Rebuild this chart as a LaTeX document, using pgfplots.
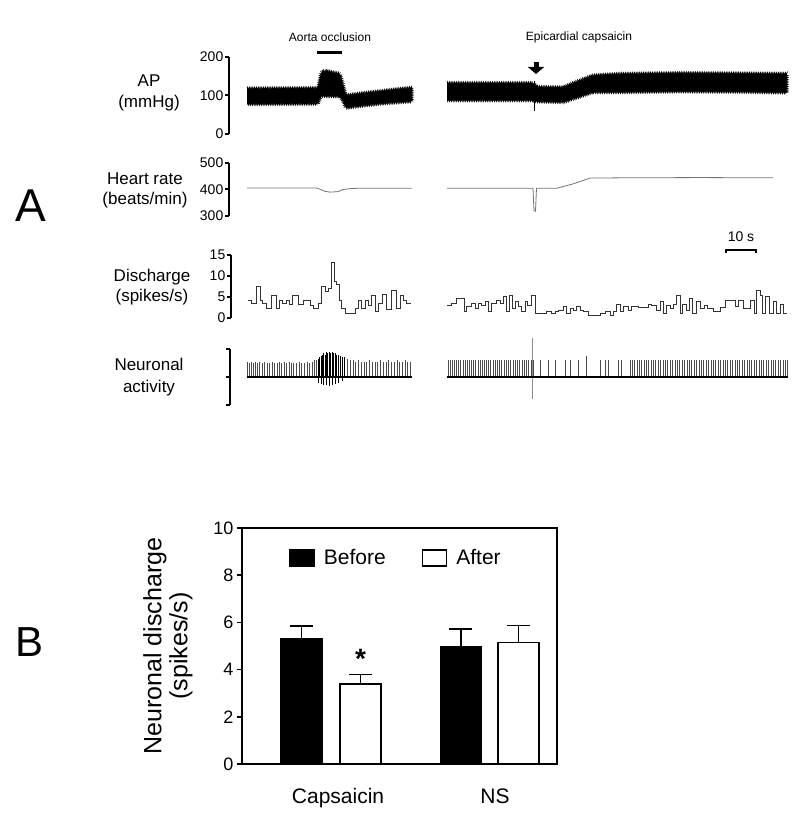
\documentclass[border=0pt]{standalone}
\usepackage{fontspec}
\setmainfont{Liberation Sans}
\usepackage{pgfplots}
\pgfplotsset{compat=1.18}
\usetikzlibrary{arrows.meta,decorations.pathmorphing}

\pgfplotsset{
  trace/.style={
    scale only axis, anchor=south west, clip=false,
    xmax=790, xtick=\empty,
    axis x line=none, axis y line*=left,
    y axis line style={line width=2pt,-},
    ytick style={line width=2pt,black},
    tick align=outside, major tick length=4pt,
    yticklabel style={font=\fontsize{14}{16}\selectfont,
      /pgf/number format/assume math mode=true, inner sep=1.5pt},
  },
  band/.style={fill=black, draw=black, line width=0.4pt, decorate,
    decoration={zigzag, segment length=1.8pt, amplitude=1.4pt}},
}

\begin{document}
\begin{tikzpicture}[x=1pt,y=1pt]
\useasboundingbox (0,0) rectangle (800,819);

% ---------------- panel A ----------------
\node[font=\fontsize{46}{46}\selectfont] at (31,613) {A};
\node[align=center, font=\fontsize{17}{21}\selectfont] at (149,726) {AP\\(mmHg)};
\node[align=center, font=\fontsize{17}{20}\selectfont] at (145,629) {Heart rate\\(beats/min)};
\node[align=center, font=\fontsize{17}{20}\selectfont] at (152,532) {Discharge\\(spikes/s)};
\node[align=center, font=\fontsize{17}{22}\selectfont] at (149,442) {Neuronal\\activity};

\node[font=\fontsize{12}{14}\selectfont] at (330,782) {Aorta occlusion};
\draw[line width=3pt] (317,766) -- (342,766);
\node[font=\fontsize{12}{14}\selectfont] at (579,782) {Epicardial capsaicin};
\draw[line width=5pt, -{Triangle[width=16pt,length=7pt]}] (536,757) -- (536,745);

\node[font=\fontsize{14}{16}\selectfont] at (741,582) {10 s};
\draw[line width=2pt] (726,565.5) -- (726,569) -- (756,569) -- (756,565.5);

% AP
\begin{axis}[trace, at={(229pt,685pt)}, width=561pt, height=77pt,
  xmin=229, ymin=0, ymax=200, ytick={0,100,200}]
\addplot[band] coordinates {
  (247,119) (318,120) (321,158) (324,166) (340,157) (342,140) (346,101)
  (360,106) (380,112) (400,118) (412,121)
  (412,84) (400,82) (380,78) (360,72) (346,67) (343,85) (340,97) (321,98)
  (318,78) (247,77)};
\addplot[band] coordinates {
  (447,133) (533,133) (537,123) (563,122) (575,135) (593,153) (620,157)
  (680,159) (740,158) (787,157)
  (787,107) (740,109) (680,110) (620,108) (593,108) (575,92) (563,82)
  (537,84) (533,87) (447,87)};
\addplot[black, line width=0.8pt] coordinates {(534.5,60) (534.5,138)};
\end{axis}

% Heart rate
\begin{axis}[trace, at={(229pt,603pt)}, width=561pt, height=53pt,
  xmin=229, ymin=300, ymax=500, ytick={300,400,500}]
\addplot[black!55, line width=0.8pt] coordinates {
  (247,406) (316,406) (320,401) (325,393) (330,390) (338,392) (343,400)
  (350,403) (360,405) (412,405)};
\addplot[black!55, line width=0.8pt] coordinates {
  (447,405) (533,405) (534,320) (535.5,318) (536.5,405) (557,405) (572,420)
  (580,430) (590,443) (620,444) (700,445) (773,444)};
\end{axis}

% Discharge
\begin{axis}[trace, at={(231pt,501pt)}, width=559pt, height=63pt,
  xmin=231, ymin=0, ymax=15, ytick={0,5,10,15}]
\addplot[const plot, black!80, line width=0.7pt] coordinates {
  (248.3,4.1) (251.7,3.5) (256.7,7.6) (260,4.3) (262.7,3.5) (266.7,2.3)
  (271.7,5.5) (276.7,2.3) (279.3,4.1) (282.7,3.5) (286,4.3) (289.3,3.3)
  (292.7,5.5) (298.3,3.3) (303.3,4.3) (310,3.1) (313.3,2.3) (318.3,3.5)
  (321.7,7.5) (325,6.3) (328.3,7.1) (331.7,13.3) (334.3,8.7) (336.7,7.9)
  (339.3,4.3) (341.7,2.3) (345,1.1) (355,2.3) (358.3,4.3) (361.7,2.3)
  (365,4.3) (368.3,3.1) (371.7,5.5) (375,1.5) (378.3,3.5) (382.7,5.6)
  (386.7,2.1) (391.7,6.5) (396,2.3) (400,5.5) (403.3,4.3) (406.7,3.5)
  (411,3.5)};
\addplot[const plot, black!80, line width=0.7pt] coordinates {
  (446.7,2.9) (451.7,3.5) (456.7,4.7) (464,1.5) (466.7,2.7) (471.7,3.5)
  (475,2.3) (478.3,3.5) (481.7,3.1) (485,3.9) (488.3,1.5) (491.7,3.5)
  (496.7,4.1) (500,3.5) (503.3,5.2) (506.7,1.5) (509.3,5.5) (512,2.3)
  (515,3.9) (518.3,2.7) (521.7,1.5) (525,3.9) (527.3,3.1) (531.7,5.5)
  (535,1.1) (546.7,1.5) (551.7,1.1) (555,1.5) (558.3,1.9) (563.3,2.7)
  (566.7,1.1) (570,2.3) (573.3,1.75) (576.7,2.7) (580,1.9) (583.3,1.5)
  (588.3,0.7) (600,1.1) (605,1.5) (610,0.7) (613.3,1.5) (616.7,3.3)
  (620,1.5) (623.3,2.7) (628.3,1.9) (631.7,2.7) (638.3,2.5) (648.3,3.3)
  (651.7,3.1) (656.7,1.9) (660,3.9) (663.3,1.1) (666.7,3.1) (670,2.3)
  (673.3,3.3) (676.7,5.5) (680,1.1) (682.7,3.3) (686,1.9) (689.3,4.7)
  (692.7,1.1) (696,3.9) (700,2.3) (704,3.1) (707.3,2.3) (713.3,1.5)
  (720,2.5) (725,4.3) (735,2.7) (738.3,4.3) (743.3,2.3) (750,4.1)
  (754,1.1) (756.7,6.7) (760,5.5) (762.7,1.1) (765,5.1) (769.3,1.1)
  (773.3,3.9) (776.7,1.1) (780,3.3) (783.3,1.1) (786.7,1.1)};
\end{axis}

% Neuronal activity
\begin{axis}[trace, at={(230pt,414pt)}, width=560pt, height=56pt,
  xmin=230, ymin=-1, ymax=1, ytick={-1,0,1}, yticklabels={}]
\addplot[ycomb, black!70, line width=0.6pt] coordinates {
  (247.5,.55) (249,.5) (251,.55) (253.5,.5) (255,.55) (257,.5) (259.5,.55)
  (262,.5) (264,.55) (267,.5) (269.5,.5) (272,.55) (274,.5) (277,.5)
  (279,.55) (281.5,.5) (284,.55) (286,.5) (289,.55) (291,.5) (293.5,.5)
  (296,.5) (299,.55) (301,.5) (304,.5) (307,.55) (309.5,.5) (312,.55)
  (314,.6) (316,.6) (347,.65) (350,.6) (353,.6) (355.5,.55) (358,.6)
  (361,.55) (364,.55) (366.5,.55) (369,.6) (372,.55) (375,.55) (377.5,.55)
  (380,.6) (383,.55) (386,.55) (388.5,.6) (391,.55) (394,.55) (397,.6)
  (399.5,.55) (402,.55) (405,.6) (407.5,.55) (410,.55)};
\addplot[ycomb, black, line width=0.7pt] coordinates {
  (318,.65) (319.5,.7) (321,.75) (322,.8) (323.5,.85) (325,.8) (326,.9)
  (327.5,.85) (329,.9) (330.5,.85) (332,.9) (333.5,.85) (335,.85)
  (336.5,.8) (338,.8) (340,.75) (342,.7) (344,.7)
  (318,-.2) (321,-.25) (323.5,-.3) (326,-.3) (329,-.32) (332,-.3)
  (335,-.25) (338,-.2) (342,-.15)};
\addplot[ycomb, black!70, line width=0.6pt] coordinates {
  (448,.6) (450,.6) (452,.6) (454.5,.6) (456,.6) (458,.6) (460.5,.6)
  (463,.6) (465,.6) (467,.6) (469.5,.6) (471,.6) (473,.6) (475.5,.6)
  (478,.6) (480,.6) (482,.6) (484,.6) (486.5,.6) (488,.6) (490.5,.6)
  (493,.6) (495,.6) (497,.6) (499,.6) (501.5,.6) (504,.6) (506,.6)
  (508,.6) (510.5,.6) (513,.6) (515,.6) (517,.6) (519.5,.6) (522,.6)
  (524,.6) (526,.6) (528.5,.6) (531,.6) (533,.6)
  (540,.6) (548,.6) (555,.6) (565,.6) (570,.6) (578,.6) (586.7,.75)
  (600,.6) (605,.6) (608,.6) (618,.6) (621.7,.6)
  (630,.6) (632,.6) (634.5,.6) (637,.6) (639,.6) (641.5,.6) (644,.6)
  (646,.6) (648.5,.6) (651,.6) (653,.6) (655.5,.6) (658,.6) (660.5,.6)
  (663,.6) (665,.6) (667.5,.6) (670,.6) (672.5,.6) (675,.6) (677,.6)
  (679.5,.6) (682,.6) (684.5,.6) (687,.6) (689,.6) (691.5,.6) (694,.6)
  (696.5,.6) (699,.6) (701,.6) (703.5,.6) (706,.6) (708.5,.6) (711,.6)
  (713,.6) (715.5,.6) (718,.6) (720.5,.6) (723,.6) (725,.6) (727.5,.6)
  (730,.6) (732.5,.6) (735,.6) (737,.6) (739.5,.6) (742,.6) (744.5,.6)
  (747,.6) (749,.6) (751.5,.6) (754,.6) (756.5,.6) (759,.6) (761,.6)
  (763.5,.6) (766,.6) (768.5,.6) (771,.6) (773,.6) (775.5,.6) (778,.6)
  (780.5,.6) (783,.6) (785,.6) (787,.6)};
\addplot[black!45, line width=0.6pt] coordinates {(532,-0.77) (532,1.41)};
\addplot[black, line width=2pt] coordinates {(247,0) (412,0)};
\addplot[black, line width=2pt] coordinates {(447,0) (788,0)};
\end{axis}

% ---------------- panel B ----------------
\node[font=\fontsize{42}{42}\selectfont] at (30,177) {B};

\begin{axis}[at={(242pt,55pt)}, anchor=south west, scale only axis,
  width=315pt, height=236pt, clip=false,
  xmin=0, xmax=10, ymin=0, ymax=10,
  ytick={0,2,...,10}, xtick={3.05,8.03}, xticklabels={Capsaicin,NS},
  axis line style={line width=1.5pt},
  ytick pos=left, tick align=outside, major tick length=5pt,
  ytick style={line width=1.5pt,black}, xtick style={draw=none},
  yticklabel style={font=\fontsize{18}{20}\selectfont,
    /pgf/number format/assume math mode=true},
  xticklabel style={font=\fontsize{21}{24}\selectfont, yshift=-16pt},
  ylabel={Neuronal discharge\\(spikes/s)},
  every axis y label/.style={at={(axis description cs:-0.235,0.5)},
    rotate=90, anchor=center, align=center,
    font=\fontsize{25}{26}\selectfont},
  legend columns=2,
  legend style={at={(0.15,0.873)}, anchor=west, draw=none, fill=none,
    inner sep=0pt, font=\fontsize{21}{24}\selectfont,
    /tikz/every odd column/.append style={column sep=7pt},
    /tikz/every even column/.append style={column sep=34pt}},
]
\addplot[ybar, bar width=1.3, bar shift=0pt, fill=black, draw=black,
  line width=1.5pt,
  legend image code/.code={\draw[fill=black,line width=1.5pt] (0pt,-8pt) rectangle (24pt,8pt);},
  error bars/.cd, y dir=plus, y explicit,
  error bar style={line width=1.5pt,black},
  error mark options={rotate=90, mark size=11.5pt, line width=1.5pt}]
  coordinates {(1.889,5.29) +- (0,0.56) (6.952,4.96) +- (0,0.77)};
\addlegendentry{Before}
\addplot[ybar, bar width=1.3, bar shift=0pt, fill=white, draw=black,
  line width=1.5pt,
  legend image code/.code={\draw[fill=white,line width=1.5pt] (0pt,-8pt) rectangle (24pt,8pt);},
  error bars/.cd, y dir=plus, y explicit,
  error bar style={line width=1.5pt,black},
  error mark options={rotate=90, mark size=11.5pt, line width=1.5pt}]
  coordinates {(3.762,3.39) +- (0,0.40) (8.778,5.15) +- (0,0.72)};
\addlegendentry{After}
\node[anchor=base, font=\bfseries\fontsize{28}{28}\selectfont] at (axis cs:3.762,4.06) {*};
\end{axis}
\end{tikzpicture}
\end{document}
